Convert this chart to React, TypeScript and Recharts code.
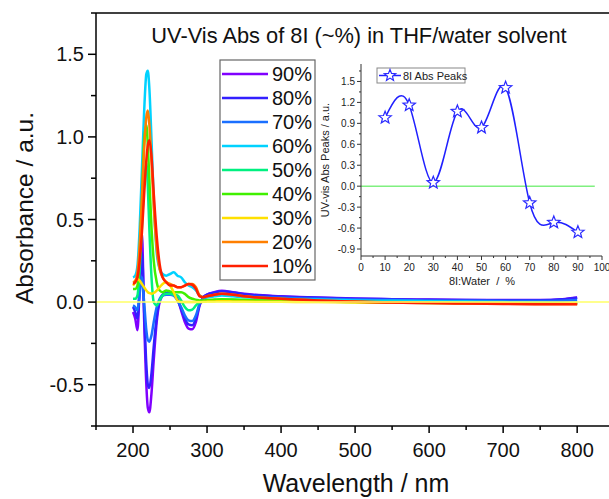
import React from 'react';
import { LineChart, Line, XAxis, YAxis, ReferenceLine } from 'recharts';

const FONT = "'Liberation Sans', Arial, sans-serif";

// wavelength grid (nm)
const wavelengths = [200, 203, 206, 209, 212, 215, 218, 220, 222, 225, 228, 232, 236, 240, 245, 250, 255, 260, 265, 270, 275, 280, 285, 290, 295, 300, 310, 320, 335, 350, 400, 450, 500, 550, 600, 650, 700, 750, 780, 800];

// absorbance per water fraction
const abs90 = [-0.06, -0.1, -0.17, 0.1, 0.42, -0.1, -0.5, -0.64, -0.667, -0.55, -0.35, -0.12, 0.0, 0.04, 0.055, 0.06, 0.05, 0.02, -0.05, -0.12, -0.16, -0.165, -0.12, -0.02, 0.03, 0.045, 0.06, 0.068, 0.06, 0.05, 0.035, 0.028, 0.022, 0.018, 0.015, 0.013, 0.012, 0.012, 0.018, 0.028];
const abs80 = [-0.03, -0.06, -0.1, 0.08, 0.3, -0.05, -0.38, -0.5, -0.52, -0.43, -0.27, -0.09, 0.01, 0.045, 0.055, 0.055, 0.045, 0.015, -0.04, -0.1, -0.135, -0.14, -0.1, -0.015, 0.03, 0.045, 0.058, 0.066, 0.058, 0.048, 0.034, 0.027, 0.021, 0.017, 0.014, 0.012, 0.011, 0.011, 0.017, 0.027];
const abs70 = [-0.02, -0.03, -0.05, 0.05, 0.15, 0.0, -0.17, -0.23, -0.24, -0.2, -0.12, -0.03, 0.02, 0.04, 0.045, 0.045, 0.04, 0.01, -0.03, -0.08, -0.11, -0.115, -0.08, -0.01, 0.02, 0.03, 0.04, 0.045, 0.042, 0.036, 0.026, 0.02, 0.015, 0.012, 0.01, 0.008, 0.007, 0.006, 0.008, 0.012];
const abs60 = [0.15, 0.16, 0.22, 0.45, 0.8, 1.15, 1.38, 1.4, 1.3, 0.98, 0.62, 0.3, 0.2, 0.17, 0.16, 0.17, 0.18, 0.16, 0.15, 0.12, 0.1, 0.09, 0.07, 0.04, 0.03, 0.03, 0.035, 0.04, 0.035, 0.03, 0.02, 0.015, 0.01, 0.008, 0.005, 0.003, 0.0, -0.003, -0.005, -0.005];
const abs50 = [0.02, 0.02, 0.04, 0.2, 0.45, 0.72, 0.84, 0.7, 0.45, 0.15, 0.0, -0.02, 0.01, 0.04, 0.05, 0.05, 0.045, 0.04, 0.01, -0.03, -0.05, -0.045, -0.02, 0.0, 0.005, 0.008, 0.012, 0.015, 0.014, 0.012, 0.008, 0.005, 0.002, 0.0, -0.002, -0.004, -0.005, -0.006, -0.006, -0.006];
const abs40 = [0.08, 0.08, 0.1, 0.3, 0.62, 0.98, 1.07, 0.95, 0.75, 0.45, 0.25, 0.12, 0.07, 0.06, 0.07, 0.065, 0.06, 0.06, 0.06, 0.05, 0.03, 0.02, 0.015, 0.01, 0.01, 0.012, 0.015, 0.018, 0.016, 0.012, 0.008, 0.004, 0.0, -0.003, -0.005, -0.007, -0.009, -0.01, -0.01, -0.01];
const abs30 = [0.1, 0.12, 0.14, 0.13, 0.11, 0.09, 0.07, 0.06, 0.055, 0.05, 0.055, 0.07, 0.09, 0.11, 0.12, 0.1, 0.06, 0.01, 0.0, 0.0, 0.0, 0.0, 0.0, 0.0, 0.002, 0.003, 0.004, 0.005, 0.004, 0.003, 0.002, 0.0, -0.002, -0.003, -0.004, -0.005, -0.006, -0.01, -0.008, -0.005];
const abs20 = [0.12, 0.13, 0.18, 0.35, 0.62, 0.92, 1.12, 1.16, 1.08, 0.85, 0.58, 0.33, 0.2, 0.15, 0.12, 0.11, 0.1, 0.09, 0.09, 0.1, 0.11, 0.11, 0.09, 0.04, 0.03, 0.035, 0.045, 0.05, 0.045, 0.035, 0.02, 0.01, 0.003, -0.002, -0.005, -0.008, -0.01, -0.012, -0.012, -0.012];
const abs10 = [0.11, 0.12, 0.15, 0.25, 0.42, 0.65, 0.86, 0.95, 0.98, 0.88, 0.66, 0.4, 0.23, 0.15, 0.12, 0.1, 0.1, 0.09, 0.09, 0.1, 0.11, 0.105, 0.08, 0.035, 0.03, 0.035, 0.045, 0.05, 0.045, 0.035, 0.02, 0.01, 0.002, -0.003, -0.006, -0.009, -0.011, -0.013, -0.013, -0.013];

const seriesNames = ['90%', '80%', '70%', '60%', '50%', '40%', '30%', '20%', '10%'];
const seriesColors = ['#8000ff', '#3320ff', '#1a6fff', '#00d2ff', '#00f080', '#40f000', '#ffe000', '#ff7f00', '#ff2000'];
const seriesValues = [abs90, abs80, abs70, abs60, abs50, abs40, abs30, abs20, abs10];

// inset: peak absorbance vs water fraction
const waterPct = [10, 20, 30, 40, 50, 60, 70, 80, 90];
const peakAbs = [0.98, 1.16, 0.05, 1.07, 0.84, 1.41, -0.24, -0.52, -0.66];

const mainXTicks = [150, 200, 250, 300, 350, 400, 450, 500, 550, 600, 650, 700, 750, 800];
const mainYTicks = [-0.75, -0.5, -0.25, 0, 0.25, 0.5, 0.75, 1.0, 1.25, 1.5, 1.75];
const insetXTicks = [0, 5, 10, 15, 20, 25, 30, 35, 40, 45, 50, 55, 60, 65, 70, 75, 80, 85, 90, 95, 100];
const insetYTicks = [-0.9, -0.75, -0.6, -0.45, -0.3, -0.15, 0, 0.15, 0.3, 0.45, 0.6, 0.75, 0.9, 1.05, 1.2, 1.35, 1.5, 1.65];

const rows = wavelengths.map((wl, i) => {
  const r: any = { wl };
  seriesNames.forEach((n, k) => { r[n] = seriesValues[k][i]; });
  return r;
});
const insetRows = waterPct.map((p, i) => ({ pct: p, peak: peakAbs[i] }));

const MainXTick = ({ x, y, payload }: any) => {
  const v = payload.value;
  const major = v % 100 === 0;
  return (
    <g>
      <line x1={x} x2={x} y1={y} y2={y + (major ? 7 : 4)} stroke="#000" strokeWidth={1.5} />
      {major && <text x={x} y={y + 31} textAnchor="middle" fontSize={20} fontFamily={FONT} fill="#111">{v}</text>}
    </g>
  );
};

const MainYTick = ({ x, y, payload }: any) => {
  const v = payload.value;
  const major = Math.abs(v * 2 - Math.round(v * 2)) < 1e-6;
  return (
    <g>
      <line x1={x - (major ? 8 : 5)} x2={x} y1={y} y2={y} stroke="#000" strokeWidth={1.5} />
      {major && <text x={x - 12} y={y + 7} textAnchor="end" fontSize={20} fontFamily={FONT} fill="#111">{v.toFixed(1)}</text>}
    </g>
  );
};

const InsetXTick = ({ x, y, payload }: any) => {
  const v = payload.value;
  const major = v % 10 === 0;
  return (
    <g>
      <line x1={x} x2={x} y1={y} y2={y + (major ? 4 : 2)} stroke="#333" strokeWidth={1} />
      {major && <text x={x} y={y + 15} textAnchor="middle" fontSize={10} fontFamily={FONT} fill="#222">{v}</text>}
    </g>
  );
};

const InsetYTick = ({ x, y, payload }: any) => {
  const v = payload.value;
  const major = Math.abs(v / 0.3 - Math.round(v / 0.3)) < 1e-6;
  return (
    <g>
      <line x1={x - (major ? 4 : 2)} x2={x} y1={y} y2={y} stroke="#333" strokeWidth={1} />
      {major && <text x={x - 6} y={y + 3.5} textAnchor="end" fontSize={10} fontFamily={FONT} fill="#222">{v.toFixed(1)}</text>}
    </g>
  );
};

const starPoints = (cx: number, cy: number, ro: number, ri: number) => {
  const pts: string[] = [];
  for (let i = 0; i < 10; i++) {
    const r = i % 2 === 0 ? ro : ri;
    const a = -Math.PI / 2 + (i * Math.PI) / 5;
    pts.push(`${cx + r * Math.cos(a)},${cy + r * Math.sin(a)}`);
  }
  return pts.join(' ');
};

const StarDot = ({ cx, cy }: any) => (
  <polygon points={starPoints(cx, cy, 6.5, 2.8)} fill="#fff" stroke="#2a2aff" strokeWidth={1.2} />
);

export default function App() {
  return (
    <div style={{ position: 'absolute', left: 0, top: 0, width: 609, height: 499, background: '#fff', overflow: 'hidden' }}>
      <div style={{ position: 'absolute', left: 0, top: 0 }}>
        <LineChart width={609} height={499} data={rows} margin={{ top: 13, right: 0, bottom: 0, left: 0 }}>
          <XAxis type="number" dataKey="wl" domain={[150, 843]} allowDataOverflow ticks={mainXTicks} interval={0}
            tick={<MainXTick />} tickLine={false} tickSize={0} tickMargin={0} height={73}
            axisLine={{ stroke: '#000', strokeWidth: 1.5 }} />
          <YAxis type="number" domain={[-0.75, 1.75]} allowDataOverflow ticks={mainYTicks} interval={0}
            tick={<MainYTick />} tickLine={false} tickSize={0} tickMargin={0} width={96}
            axisLine={{ stroke: '#000', strokeWidth: 1.5 }} />
          {seriesNames.map((n, k) => (
            <Line key={n} type="monotone" dataKey={n} stroke={seriesColors[k]} strokeWidth={2.5} dot={false} isAnimationActive={false} />
          ))}
          <ReferenceLine y={0} stroke="#ffff66" strokeWidth={1.5} />
          <ReferenceLine y={1.75} stroke="#000" strokeWidth={1.5} />
        </LineChart>
      </div>

      <div style={{ position: 'absolute', left: 316, top: 55, width: 293, height: 237, background: '#fff', overflow: 'hidden' }}>
        <LineChart width={293} height={237} data={insetRows} margin={{ top: 9, right: 7, bottom: 0, left: 0 }}>
          <XAxis type="number" dataKey="pct" domain={[0, 100]} ticks={insetXTicks} interval={0}
            tick={<InsetXTick />} tickLine={false} tickSize={0} tickMargin={0} height={36}
            axisLine={{ stroke: '#333', strokeWidth: 1 }} />
          <YAxis type="number" domain={[-1, 1.75]} ticks={insetYTicks} interval={0}
            tick={<InsetYTick />} tickLine={false} tickSize={0} tickMargin={0} width={45}
            axisLine={{ stroke: '#333', strokeWidth: 1 }} />
          <ReferenceLine segment={[{ x: 0, y: 0 }, { x: 97, y: 0 }]} stroke="#80f080" strokeWidth={1.5} />
          <Line type="natural" dataKey="peak" stroke="#2020ff" strokeWidth={1.5} dot={<StarDot />} isAnimationActive={false} />
        </LineChart>
      </div>

      <svg width={609} height={499} style={{ position: 'absolute', left: 0, top: 0, pointerEvents: 'none' }} fontFamily={FONT}>
        <text x={359} y={43} textAnchor="middle" fontSize={21.8} fill="#111">UV-Vis Abs of 8I (~%) in THF/water solvent</text>
        <text transform="translate(33,208) rotate(-90)" textAnchor="middle" fontSize={24.5} fill="#111">Absorbance / a.u.</text>
        <text x={356} y={492} textAnchor="middle" fontSize={25} fill="#111">Wavelength / nm</text>

        <rect x={220} y={60} width={95} height={220} fill="#fff" stroke="#666" strokeWidth={1.2} />
        {seriesNames.map((n, k) => (
          <g key={n}>
            <line x1={222} x2={268} y1={74 + k * 24} y2={74 + k * 24} stroke={seriesColors[k]} strokeWidth={2.5} />
            <text x={272} y={81 + k * 24} fontSize={20} fill="#111">{n}</text>
          </g>
        ))}

        <rect x={377} y={68} width={88} height={15} fill="#fff" stroke="#888" strokeWidth={1} />
        <line x1={379} x2={401} y1={75.5} y2={75.5} stroke="#2020ff" strokeWidth={1.5} />
        <polygon points={starPoints(390, 75.5, 6, 2.6)} fill="#fff" stroke="#2a2aff" strokeWidth={1.2} />
        <text x={403} y={79.5} fontSize={11} fill="#222">8I Abs Peaks</text>

        <text transform="translate(329,160) rotate(-90)" textAnchor="middle" fontSize={11} fill="#222">UV-vis Abs Peaks / a.u.</text>
        <text x={482} y={285} textAnchor="middle" fontSize={11} fill="#222" style={{ whiteSpace: 'pre' }}>8I:Water  /  %</text>
      </svg>
    </div>
  );
}
